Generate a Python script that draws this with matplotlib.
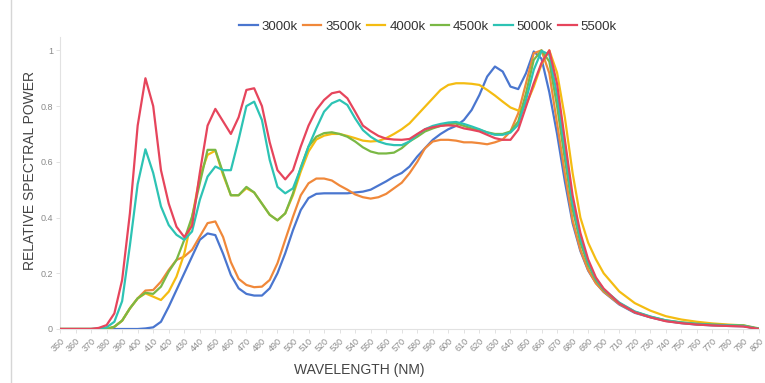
import matplotlib
matplotlib.use('Agg')
import matplotlib.pyplot as plt
from matplotlib.lines import Line2D

# Wavelength grid (nm) shared by all the series
wavelengths = [350, 360, 370, 375] + list(range(380, 705, 5)) + list(range(710, 810, 10))

# Relative spectral power per colour temperature
spd_3000k = [0, 0, 0, 0,
             0, 0, 0, 0, 0, 0.002, 0.006, 0.026, 0.08, 0.14, 0.2, 0.26, 0.32, 0.343, 0.337, 0.27,
             0.194, 0.146, 0.126, 0.12, 0.12, 0.146, 0.2, 0.272, 0.355, 0.427, 0.47, 0.485, 0.487,
             0.487, 0.487, 0.487, 0.49, 0.493, 0.5, 0.515, 0.53, 0.547, 0.56, 0.583, 0.619, 0.649,
             0.679, 0.7, 0.717, 0.729, 0.75, 0.786, 0.84, 0.906, 0.942, 0.924, 0.87, 0.861, 0.918,
             0.996, 0.97, 0.85, 0.7, 0.53, 0.38, 0.28, 0.21, 0.165, 0.133,
             0.088, 0.058, 0.042, 0.029, 0.021, 0.016, 0.013, 0.011, 0.01, 0]
spd_3500k = [0, 0, 0, 0,
             0, 0.008, 0.03, 0.074, 0.11, 0.138, 0.14, 0.17, 0.212, 0.248, 0.26, 0.284, 0.332, 0.38,
             0.386, 0.33, 0.24, 0.18, 0.158, 0.15, 0.152, 0.176, 0.236, 0.32, 0.403, 0.48, 0.523,
             0.54, 0.54, 0.533, 0.515, 0.5, 0.483, 0.473, 0.468, 0.473, 0.485, 0.505, 0.525, 0.559,
             0.6, 0.649, 0.673, 0.679, 0.679, 0.676, 0.67, 0.67, 0.667, 0.663, 0.67, 0.68, 0.709,
             0.774, 0.882, 0.99, 1.0, 0.918, 0.738, 0.559, 0.39, 0.284, 0.212, 0.164, 0.134,
             0.09, 0.06, 0.043, 0.03, 0.022, 0.017, 0.014, 0.012, 0.011, 0]
spd_4000k = [0, 0, 0, 0,
             0, 0.008, 0.03, 0.074, 0.11, 0.128, 0.116, 0.104, 0.134, 0.188, 0.27, 0.4, 0.547, 0.625,
             0.64, 0.553, 0.48, 0.48, 0.505, 0.49, 0.45, 0.41, 0.39, 0.415, 0.48, 0.565, 0.637, 0.68,
             0.694, 0.7, 0.7, 0.693, 0.685, 0.676, 0.673, 0.675, 0.685, 0.7, 0.717, 0.738, 0.768,
             0.798, 0.828, 0.858, 0.876, 0.882, 0.882, 0.88, 0.876, 0.858, 0.838, 0.816, 0.795,
             0.784, 0.804, 0.87, 0.95, 1.0, 0.92, 0.76, 0.56, 0.4, 0.31, 0.25, 0.2,
             0.135, 0.093, 0.066, 0.046, 0.034, 0.026, 0.02, 0.016, 0.013, 0]
spd_4500k = [0, 0, 0, 0,
             0, 0.008, 0.03, 0.074, 0.11, 0.13, 0.126, 0.152, 0.206, 0.248, 0.32, 0.403, 0.523, 0.643,
             0.643, 0.56, 0.48, 0.48, 0.51, 0.49, 0.45, 0.41, 0.39, 0.415, 0.487, 0.58, 0.655, 0.69,
             0.703, 0.706, 0.7, 0.69, 0.673, 0.652, 0.637, 0.63, 0.63, 0.633, 0.649, 0.673, 0.69,
             0.709, 0.72, 0.729, 0.735, 0.738, 0.729, 0.72, 0.715, 0.706, 0.7, 0.7, 0.709, 0.745,
             0.846, 0.966, 1.0, 0.96, 0.8, 0.61, 0.43, 0.31, 0.23, 0.175, 0.14,
             0.093, 0.062, 0.044, 0.031, 0.024, 0.019, 0.016, 0.014, 0.013, 0.002]
spd_5000k = [0, 0, 0, 0.002,
             0.006, 0.026, 0.1, 0.3, 0.52, 0.645, 0.56, 0.44, 0.373, 0.338, 0.32, 0.35, 0.463, 0.547,
             0.583, 0.57, 0.57, 0.68, 0.8, 0.816, 0.75, 0.607, 0.51, 0.487, 0.505, 0.577, 0.655, 0.72,
             0.78, 0.81, 0.822, 0.804, 0.756, 0.714, 0.69, 0.673, 0.664, 0.66, 0.66, 0.673, 0.697,
             0.717, 0.729, 0.736, 0.741, 0.743, 0.736, 0.727, 0.717, 0.705, 0.697, 0.697, 0.705,
             0.733, 0.822, 0.93, 0.998, 0.985, 0.84, 0.64, 0.45, 0.325, 0.24, 0.18, 0.143,
             0.095, 0.063, 0.045, 0.031, 0.023, 0.018, 0.015, 0.013, 0.011, 0]
spd_5500k = [0, 0, 0, 0.004,
             0.014, 0.056, 0.176, 0.415, 0.73, 0.9, 0.8, 0.57, 0.45, 0.367, 0.33, 0.37, 0.56, 0.73,
             0.79, 0.745, 0.7, 0.76, 0.858, 0.864, 0.8, 0.67, 0.57, 0.537, 0.57, 0.655, 0.73, 0.786,
             0.822, 0.846, 0.852, 0.828, 0.78, 0.73, 0.71, 0.693, 0.683, 0.68, 0.679, 0.682, 0.7,
             0.717, 0.724, 0.729, 0.731, 0.729, 0.72, 0.715, 0.709, 0.697, 0.685, 0.679, 0.679,
             0.715, 0.798, 0.882, 0.955, 1.0, 0.88, 0.68, 0.48, 0.345, 0.25, 0.185, 0.145,
             0.092, 0.06, 0.042, 0.028, 0.021, 0.016, 0.013, 0.011, 0.009, 0]

series_names = ['3000k', '3500k', '4000k', '4500k', '5000k', '5500k']
series_colors = ['#4a76cf', '#f0883a', '#f4bc12', '#7ab845', '#2dc3b4', '#e6455c']
x_ticks = list(range(350, 810, 10))
y_ticks = [0, 0.2, 0.4, 0.6, 0.8, 1]
y_tick_labels = ['0', '0.2', '0.4', '0.6', '0.8', '1']

plt.rcParams['font.family'] = ['Liberation Sans', 'DejaVu Sans']

fig = plt.figure(figsize=(7.65, 3.83), dpi=100)
ax = fig.add_axes([60 / 765, 1 - 329 / 383, 699 / 765, 292 / 383])

all_series = [spd_3000k, spd_3500k, spd_4000k, spd_4500k, spd_5000k, spd_5500k]
handles = []
for values, name, color in zip(all_series, series_names, series_colors):
    line, = ax.plot(wavelengths, values, color=color, lw=1.6, label=name,
                    solid_joinstyle='round', zorder=3)
    handles.append(line)

ax.set_xlim(350, 800)
ax.set_ylim(0, 1.048)
ax.set_xticks(x_ticks)
ax.set_xticklabels([str(t) for t in x_ticks], rotation=45, ha='right',
                   rotation_mode='anchor', fontsize=6.5, color='#8a8a8a')
ax.set_yticks(y_ticks)
ax.set_yticklabels(y_tick_labels, fontsize=6.5, color='#8a8a8a')
ax.tick_params(axis='x', length=3, width=0.6, color='#dddddd', pad=2)
ax.tick_params(axis='y', length=3, width=0.6, color='#dddddd', pad=2)

for side in ['top', 'right']:
    ax.spines[side].set_visible(False)
for side in ['left', 'bottom']:
    ax.spines[side].set_color('#e2e2e2')
    ax.spines[side].set_linewidth(0.8)

fig.text(30 / 765, 1 - 170 / 383, 'RELATIVE SPECTRAL POWER', rotation=90,
         ha='center', va='center', fontsize=10, color='#444444')
fig.text(359 / 765, 1 - 370 / 383, 'WAVELENGTH (NM)', ha='center', va='center',
         fontsize=10, color='#444444')

fig.legend(handles=handles, loc='center', bbox_to_anchor=(428 / 765, 1 - 27 / 383),
           ncol=6, frameon=False, fontsize=9.5, handlelength=1.4, handletextpad=0.3,
           columnspacing=0.4, labelcolor='#333333')

# card border on the left edge
fig.add_artist(Line2D([11 / 765, 11 / 765], [0, 1], transform=fig.transFigure,
                      color='#d6d6d6', lw=1))

plt.savefig('out.png', dpi=100)
